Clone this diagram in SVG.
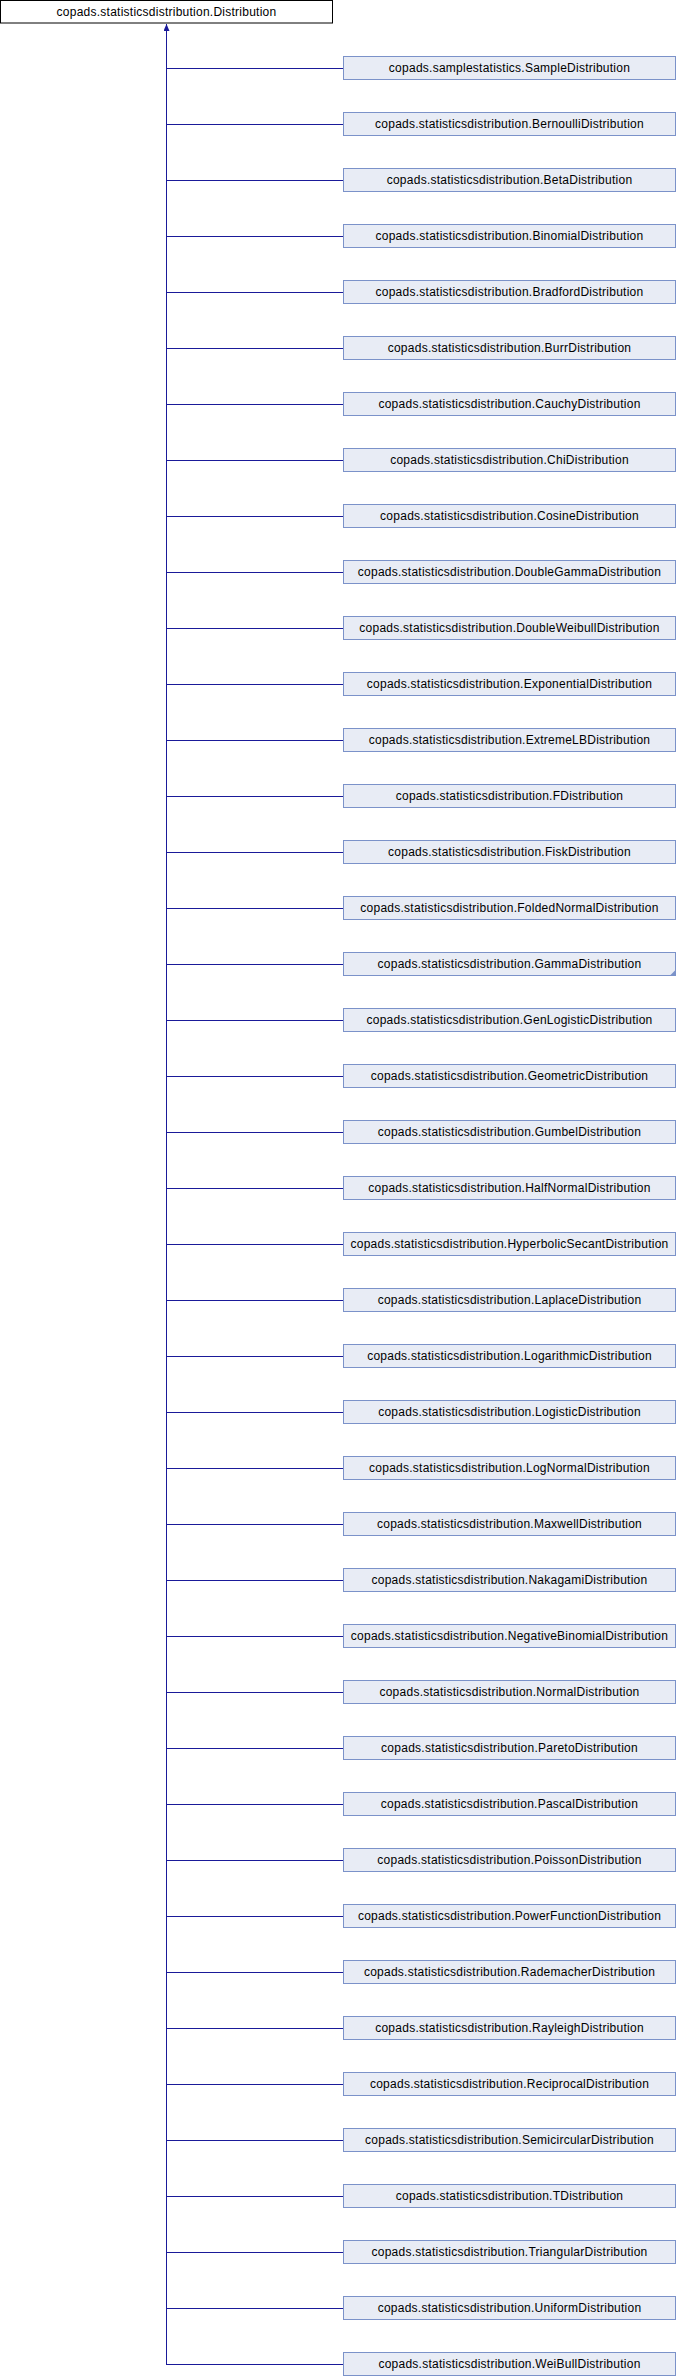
<svg xmlns="http://www.w3.org/2000/svg" width="676" height="2376" viewBox="0 0 676 2376">
<style>
.n rect{fill:#e8ecf5;stroke:#7b92c9;stroke-width:1}
.root rect{fill:#ffffff;stroke:#000000;stroke-width:1}
text{font-family:"Liberation Sans",Arial,sans-serif;font-size:12px;letter-spacing:0.25px;fill:#000;text-anchor:middle}
.e{stroke:#1a1a99;stroke-width:1;fill:none}
</style>
<defs>
<marker id="ah" markerWidth="6" markerHeight="8" refX="3" refY="0" orient="0" markerUnits="userSpaceOnUse">
<path d="M0,7 L3,0 L6,7 Z" fill="#1a1a99"/>
</marker>
</defs>
<rect width="676" height="2376" fill="#ffffff"/>
<g id="connectors">
<line class="e" x1="166.5" y1="2364.5" x2="166.5" y2="24" marker-end="url(#ah)"/>
<path class="e" d="M166,68.5H343M166,124.5H343M166,180.5H343M166,236.5H343M166,292.5H343M166,348.5H343M166,404.5H343M166,460.5H343M166,516.5H343M166,572.5H343M166,628.5H343M166,684.5H343M166,740.5H343M166,796.5H343M166,852.5H343M166,908.5H343M166,964.5H343M166,1020.5H343M166,1076.5H343M166,1132.5H343M166,1188.5H343M166,1244.5H343M166,1300.5H343M166,1356.5H343M166,1412.5H343M166,1468.5H343M166,1524.5H343M166,1580.5H343M166,1636.5H343M166,1692.5H343M166,1748.5H343M166,1804.5H343M166,1860.5H343M166,1916.5H343M166,1972.5H343M166,2028.5H343M166,2084.5H343M166,2140.5H343M166,2196.5H343M166,2252.5H343M166,2308.5H343M166,2364.5H343"/>
</g>
<g id="Distribution" class="root"><rect x="0.5" y="0.5" width="332" height="22.5"/><text x="166.5" y="15.8">copads.statisticsdistribution.Distribution</text></g>
<g id="SampleDistribution" class="n"><rect x="343.5" y="56.5" width="332" height="23"/><text x="509.5" y="72">copads.samplestatistics.SampleDistribution</text></g>
<g id="BernoulliDistribution" class="n"><rect x="343.5" y="112.5" width="332" height="23"/><text x="509.5" y="128">copads.statisticsdistribution.BernoulliDistribution</text></g>
<g id="BetaDistribution" class="n"><rect x="343.5" y="168.5" width="332" height="23"/><text x="509.5" y="184">copads.statisticsdistribution.BetaDistribution</text></g>
<g id="BinomialDistribution" class="n"><rect x="343.5" y="224.5" width="332" height="23"/><text x="509.5" y="240">copads.statisticsdistribution.BinomialDistribution</text></g>
<g id="BradfordDistribution" class="n"><rect x="343.5" y="280.5" width="332" height="23"/><text x="509.5" y="296">copads.statisticsdistribution.BradfordDistribution</text></g>
<g id="BurrDistribution" class="n"><rect x="343.5" y="336.5" width="332" height="23"/><text x="509.5" y="352">copads.statisticsdistribution.BurrDistribution</text></g>
<g id="CauchyDistribution" class="n"><rect x="343.5" y="392.5" width="332" height="23"/><text x="509.5" y="408">copads.statisticsdistribution.CauchyDistribution</text></g>
<g id="ChiDistribution" class="n"><rect x="343.5" y="448.5" width="332" height="23"/><text x="509.5" y="464">copads.statisticsdistribution.ChiDistribution</text></g>
<g id="CosineDistribution" class="n"><rect x="343.5" y="504.5" width="332" height="23"/><text x="509.5" y="520">copads.statisticsdistribution.CosineDistribution</text></g>
<g id="DoubleGammaDistribution" class="n"><rect x="343.5" y="560.5" width="332" height="23"/><text x="509.5" y="576">copads.statisticsdistribution.DoubleGammaDistribution</text></g>
<g id="DoubleWeibullDistribution" class="n"><rect x="343.5" y="616.5" width="332" height="23"/><text x="509.5" y="632">copads.statisticsdistribution.DoubleWeibullDistribution</text></g>
<g id="ExponentialDistribution" class="n"><rect x="343.5" y="672.5" width="332" height="23"/><text x="509.5" y="688">copads.statisticsdistribution.ExponentialDistribution</text></g>
<g id="ExtremeLBDistribution" class="n"><rect x="343.5" y="728.5" width="332" height="23"/><text x="509.5" y="744">copads.statisticsdistribution.ExtremeLBDistribution</text></g>
<g id="FDistribution" class="n"><rect x="343.5" y="784.5" width="332" height="23"/><text x="509.5" y="800">copads.statisticsdistribution.FDistribution</text></g>
<g id="FiskDistribution" class="n"><rect x="343.5" y="840.5" width="332" height="23"/><text x="509.5" y="856">copads.statisticsdistribution.FiskDistribution</text></g>
<g id="FoldedNormalDistribution" class="n"><rect x="343.5" y="896.5" width="332" height="23"/><text x="509.5" y="912">copads.statisticsdistribution.FoldedNormalDistribution</text></g>
<g id="GammaDistribution" class="n"><rect x="343.5" y="952.5" width="332" height="23"/><path d="M675.5,970 L675.5,975.5 L670,975.5 Z" fill="#7b92c9"/><text x="509.5" y="968">copads.statisticsdistribution.GammaDistribution</text></g>
<g id="GenLogisticDistribution" class="n"><rect x="343.5" y="1008.5" width="332" height="23"/><text x="509.5" y="1024">copads.statisticsdistribution.GenLogisticDistribution</text></g>
<g id="GeometricDistribution" class="n"><rect x="343.5" y="1064.5" width="332" height="23"/><text x="509.5" y="1080">copads.statisticsdistribution.GeometricDistribution</text></g>
<g id="GumbelDistribution" class="n"><rect x="343.5" y="1120.5" width="332" height="23"/><text x="509.5" y="1136">copads.statisticsdistribution.GumbelDistribution</text></g>
<g id="HalfNormalDistribution" class="n"><rect x="343.5" y="1176.5" width="332" height="23"/><text x="509.5" y="1192">copads.statisticsdistribution.HalfNormalDistribution</text></g>
<g id="HyperbolicSecantDistribution" class="n"><rect x="343.5" y="1232.5" width="332" height="23"/><text x="509.5" y="1248">copads.statisticsdistribution.HyperbolicSecantDistribution</text></g>
<g id="LaplaceDistribution" class="n"><rect x="343.5" y="1288.5" width="332" height="23"/><text x="509.5" y="1304">copads.statisticsdistribution.LaplaceDistribution</text></g>
<g id="LogarithmicDistribution" class="n"><rect x="343.5" y="1344.5" width="332" height="23"/><text x="509.5" y="1360">copads.statisticsdistribution.LogarithmicDistribution</text></g>
<g id="LogisticDistribution" class="n"><rect x="343.5" y="1400.5" width="332" height="23"/><text x="509.5" y="1416">copads.statisticsdistribution.LogisticDistribution</text></g>
<g id="LogNormalDistribution" class="n"><rect x="343.5" y="1456.5" width="332" height="23"/><text x="509.5" y="1472">copads.statisticsdistribution.LogNormalDistribution</text></g>
<g id="MaxwellDistribution" class="n"><rect x="343.5" y="1512.5" width="332" height="23"/><text x="509.5" y="1528">copads.statisticsdistribution.MaxwellDistribution</text></g>
<g id="NakagamiDistribution" class="n"><rect x="343.5" y="1568.5" width="332" height="23"/><text x="509.5" y="1584">copads.statisticsdistribution.NakagamiDistribution</text></g>
<g id="NegativeBinomialDistribution" class="n"><rect x="343.5" y="1624.5" width="332" height="23"/><text x="509.5" y="1640">copads.statisticsdistribution.NegativeBinomialDistribution</text></g>
<g id="NormalDistribution" class="n"><rect x="343.5" y="1680.5" width="332" height="23"/><text x="509.5" y="1696">copads.statisticsdistribution.NormalDistribution</text></g>
<g id="ParetoDistribution" class="n"><rect x="343.5" y="1736.5" width="332" height="23"/><text x="509.5" y="1752">copads.statisticsdistribution.ParetoDistribution</text></g>
<g id="PascalDistribution" class="n"><rect x="343.5" y="1792.5" width="332" height="23"/><text x="509.5" y="1808">copads.statisticsdistribution.PascalDistribution</text></g>
<g id="PoissonDistribution" class="n"><rect x="343.5" y="1848.5" width="332" height="23"/><text x="509.5" y="1864">copads.statisticsdistribution.PoissonDistribution</text></g>
<g id="PowerFunctionDistribution" class="n"><rect x="343.5" y="1904.5" width="332" height="23"/><text x="509.5" y="1920">copads.statisticsdistribution.PowerFunctionDistribution</text></g>
<g id="RademacherDistribution" class="n"><rect x="343.5" y="1960.5" width="332" height="23"/><text x="509.5" y="1976">copads.statisticsdistribution.RademacherDistribution</text></g>
<g id="RayleighDistribution" class="n"><rect x="343.5" y="2016.5" width="332" height="23"/><text x="509.5" y="2032">copads.statisticsdistribution.RayleighDistribution</text></g>
<g id="ReciprocalDistribution" class="n"><rect x="343.5" y="2072.5" width="332" height="23"/><text x="509.5" y="2088">copads.statisticsdistribution.ReciprocalDistribution</text></g>
<g id="SemicircularDistribution" class="n"><rect x="343.5" y="2128.5" width="332" height="23"/><text x="509.5" y="2144">copads.statisticsdistribution.SemicircularDistribution</text></g>
<g id="TDistribution" class="n"><rect x="343.5" y="2184.5" width="332" height="23"/><text x="509.5" y="2200">copads.statisticsdistribution.TDistribution</text></g>
<g id="TriangularDistribution" class="n"><rect x="343.5" y="2240.5" width="332" height="23"/><text x="509.5" y="2256">copads.statisticsdistribution.TriangularDistribution</text></g>
<g id="UniformDistribution" class="n"><rect x="343.5" y="2296.5" width="332" height="23"/><text x="509.5" y="2312">copads.statisticsdistribution.UniformDistribution</text></g>
<g id="WeiBullDistribution" class="n"><rect x="343.5" y="2352.5" width="332" height="23"/><text x="509.5" y="2368">copads.statisticsdistribution.WeiBullDistribution</text></g>
</svg>
